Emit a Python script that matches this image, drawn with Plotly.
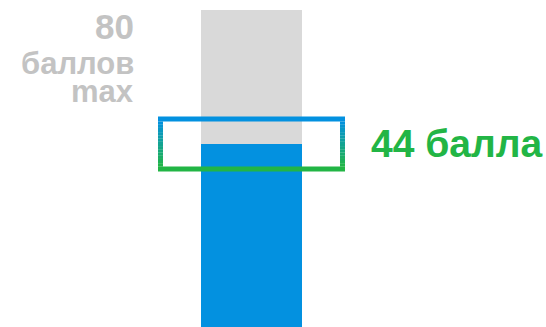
import plotly.graph_objects as go

# score data
max_score = 80
user_score = 44
max_label = ["80", "баллов", "max"]
score_label = "44 балла"

y_floor = -5.2   # bars run off the bottom edge
y_top = 82.7

grey = "#d9d9d9"
blue = "#0391e0"
green = "#22b545"
text_grey = "#c3c3c3"
FONT = "Liberation Sans, Arial"

fig = go.Figure()
fig.add_trace(go.Bar(x=[0], y=[max_score - y_floor], base=y_floor, width=1,
                     marker_color=grey, marker_line_width=0, hoverinfo="skip"))
fig.add_trace(go.Bar(x=[0], y=[user_score - y_floor], base=y_floor, width=1,
                     marker_color=blue, marker_line_width=0, hoverinfo="skip"))

# highlight frame around the score level, blue->green gradient
def mix(c1, c2, t):
    a = [int(c1[i:i + 2], 16) for i in (1, 3, 5)]
    b = [int(c2[i:i + 2], 16) for i in (1, 3, 5)]
    return "rgb(%d,%d,%d)" % tuple(round(a[k] + (b[k] - a[k]) * t) for k in range(3))

px = (y_top - y_floor) / 327.0   # data units per pixel
half = 27.5 * px
th = 5 * px
bx0, bx1 = 158 / 546, 345 / 546
tw = 5 / 546
ytop, ybot = user_score + half, user_score - half

fig.add_shape(type="rect", xref="paper", yref="y", x0=bx0, x1=bx1, y0=ytop - th, y1=ytop,
              fillcolor=blue, line_width=0, layer="above")
fig.add_shape(type="rect", xref="paper", yref="y", x0=bx0, x1=bx1, y0=ybot, y1=ybot + th,
              fillcolor=green, line_width=0, layer="above")
n = 16
step = (ytop - ybot - 2 * th) / n
for i in range(n):
    c = mix(blue, green, (i + 0.5) / n)
    y1 = ytop - th - i * step
    y0 = y1 - step * 1.05
    for xa, xb in ((bx0, bx0 + tw), (bx1 - tw, bx1)):
        fig.add_shape(type="rect", xref="paper", yref="y", x0=xa, x1=xb, y0=y0, y1=y1,
                      fillcolor=c, line_width=0, layer="above")

# labels
for txt, ypx, size in zip(max_label, [26, 64, 91], [35, 31, 31]):
    fig.add_annotation(x=136 / 546, y=1 - ypx / 327, xref="paper", yref="paper",
                       xanchor="right", yanchor="middle", showarrow=False,
                       text="<b>%s</b>" % txt,
                       font=dict(family=FONT, size=size, color=text_grey))
fig.add_annotation(x=369 / 546, y=user_score, xref="paper", yref="y",
                   xanchor="left", yanchor="middle", showarrow=False,
                   text="<b>%s</b>" % score_label,
                   font=dict(family=FONT, size=39, color=green))

fig.update_layout(
    width=546, height=327,
    margin=dict(l=0, r=0, t=0, b=0),
    paper_bgcolor="white", plot_bgcolor="white",
    barmode="overlay", showlegend=False,
    xaxis=dict(range=[-251.5 / 101, 294.5 / 101], visible=False, fixedrange=True),
    yaxis=dict(range=[y_floor, y_top], visible=False, fixedrange=True),
)

fig.write_html("out.html", config={"displayModeBar": False},
               post_script="document.body.style.margin='0px';")
